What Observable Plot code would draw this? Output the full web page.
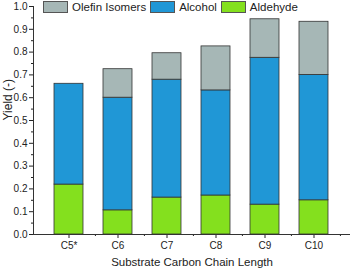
<!DOCTYPE html>
<html><head><meta charset="utf-8">
<script src="https://cdn.jsdelivr.net/npm/d3@7"></script>
<script src="https://cdn.jsdelivr.net/npm/@observablehq/plot@0.6"></script>
<style>
body{margin:0;background:#fff;font-family:"Liberation Sans",Arial,sans-serif;}
#wrap{position:relative;width:351px;height:269px;}
#legend{position:absolute;left:43px;top:1px;display:flex;align-items:center;font-size:11.5px;color:#222;}
.sw{width:25px;height:12px;border:1px solid #555;box-sizing:border-box;margin-right:4px;}
.it{display:flex;align-items:center;margin-right:4px;}
</style></head><body>
<div id="wrap"><div id="legend"></div></div>
<script>
const categories = ["C5*","C6","C7","C8","C9","C10"];
const aldehyde = [0.219,0.106,0.162,0.171,0.131,0.150];
const alcohol  = [0.442,0.494,0.517,0.461,0.644,0.550];
const olefin   = [0.000,0.125,0.116,0.193,0.169,0.233];
const seriesNames = ["Aldehyde","Alcohol","Olefin Isomers"];
const colors = ["#84e01e","#2097d6","#a6b7b6"];

const data = [];
categories.forEach((c,i)=>{
  [aldehyde[i],alcohol[i],olefin[i]].forEach((v,k)=>data.push({cat:c,series:seriesNames[k],value:v,order:k}));
});

const width=351,height=269,mL=33,mR=1;
const step=(width-mL-mR)/categories.length;

const chart = Plot.plot({
  width,height,marginLeft:mL,marginRight:mR,marginTop:6,marginBottom:35,
  style:{fontFamily:"Liberation Sans, Arial, sans-serif",fontSize:"10px",color:"#222"},
  x:{domain:categories,padding:0.4,label:null},
  y:{domain:[0,1],label:null},
  color:{domain:seriesNames,range:colors},
  marks:[
    Plot.barY(data,Plot.stackY({x:"cat",y:"value",fill:"series",order:"order",stroke:"#333",strokeWidth:0.8})),
    Plot.axisY({ticks:d3.range(0,1.0001,0.1),tickFormat:d=>d.toFixed(1),tickSize:4,tickPadding:2}),
    Plot.axisY({ticks:d3.range(0.05,1,0.1),tickFormat:()=>"",tickSize:2}),
    Plot.axisX({tickSize:4,tickPadding:3}),
    Plot.axisX({tickFormat:()=>"",tickSize:2,dx:step/2}),
    Plot.ruleY([0],{stroke:"#333"}),
    Plot.frame({anchor:"left",stroke:"#333"}),
    Plot.text(["Substrate Carbon Chain Length"],{frameAnchor:"bottom",dy:31,fontSize:11.5}),
    Plot.text(["Yield (-)"],{frameAnchor:"left",dx:-25,rotate:-90,fontSize:12})
  ]
});
document.getElementById("wrap").prepend(chart);
const lg=document.getElementById("legend");
[["Olefin Isomers",colors[2]],["Alcohol",colors[1]],["Aldehyde",colors[0]]].forEach(([n,c])=>{
  const it=document.createElement("div");it.className="it";
  it.innerHTML=`<div class="sw" style="background:${c}"></div><span>${n}</span>`;
  lg.appendChild(it);
});
</script></body></html>
